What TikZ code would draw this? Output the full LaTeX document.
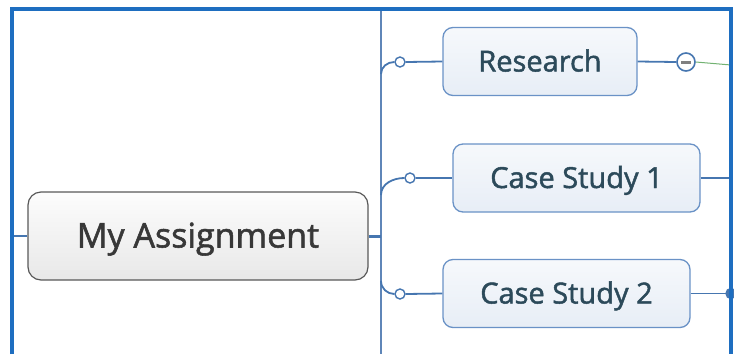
\documentclass[tikz,border=0pt]{standalone}
\usepackage{fontspec}
\setsansfont{Open Sans}
\newfontfamily\mapfont{Open Sans}[FakeBold=1.6]
\usepackage{tikz}
\usetikzlibrary{shapes}
\usetikzlibrary{calc}
\usetikzlibrary{positioning}
\definecolor{map-frame}{HTML}{1E6EC0}
\definecolor{map-line}{HTML}{4676B0}
\definecolor{map-rule}{HTML}{5F86B8}
\definecolor{map-edge}{HTML}{6A92C6}
\definecolor{map-text}{HTML}{2C4A5A}
\definecolor{map-green}{HTML}{72B272}
\tikzset{node distance=12pt, auto}
\tikzstyle{central} = [rectangle, rounded corners=13pt, draw=black!65, line width=1.2pt, top color=black!1, bottom color=black!9, minimum width=340pt, minimum height=88pt, text height=23pt, text depth=0pt, text=black!78, font={\mapfont\fontsize{34}{40}\selectfont}]
\tikzstyle{topic} = [rectangle, rounded corners=10pt, draw=map-edge, line width=1.3pt, top color=map-edge!6, bottom color=map-edge!16, minimum height=68pt, text height=20pt, text depth=0pt, text=map-text, font={\mapfont\fontsize{29}{34}\selectfont}]
\tikzstyle{knob} = [circle, draw=map-line, fill=white, line width=1.4pt, inner sep=0pt, minimum size=10pt]
\tikzstyle{ln} = [draw=map-line, line width=1.8pt]

\begin{document}
\begin{tikzpicture}[x=1pt, y=-1pt,
        frame/.style={draw=map-frame, line width=3.5pt},
        rule/.style={draw=map-rule, line width=1.2pt}
      ]
      \useasboundingbox (0,0) rectangle (734,354);
      \node[central]                      (root)   at (198,236)   {My Assignment};
      \coordinate[right=of root.east]     (hub);
      \node[topic, minimum width=194pt]   (research) at (540,61.5)  {Research};
      \node[topic, minimum width=247pt]   (case1)  at (576.5,178) {Case Study 1};
      \node[topic, minimum width=247pt]   (case2)  at (566.5,293.5) {Case Study 2};
      \node[knob]                         (k1)     at (400,62)    {};
      \node[knob]                         (k2)     at (410,178)   {};
      \node[knob]                         (k3)     at (400,294)   {};
      \node[knob, minimum size=18pt, line width=1.6pt] (fold) at (686,62) {};
      \coordinate                         (frame-nw) at (12,9);
      \coordinate                         (frame-ne) at (731,9);
      \coordinate                         (frame-sw) at (12,354);
      \coordinate                         (frame-se) at (731,354);
      \coordinate                         (rule-top) at (381,9);
      \coordinate                         (rule-bot) at (381,354);
      \draw[rule]                         (rule-top) -- (rule-bot);
      \draw[ln, line width=3pt]           (root.east) -- (hub);
      \draw[ln, line width=2pt]           (root.west) -- (root.west -| frame-nw);
      \draw[ln]                           (rule-top |- k1) ++(0,12) to[out=90, in=180] (k1.west);
      \draw[ln]                           (rule-top |- k2) ++(0,17) to[out=90, in=180] (k2.west);
      \draw[ln]                           (rule-top |- k3) ++(0,-13) to[out=-90, in=180] (k3.west);
      \draw[ln]                           (k1.east) -- (research.west);
      \draw[ln]                           (k2.east) -- (case1.west);
      \draw[ln]                           (k3.east) -- (case2.west);
      \draw[ln]                           (research.east) -- (fold.west);
      \draw[black!50, line width=3pt]     ($(fold)+(-5,0)$) -- ($(fold)+(5,0)$);
      \draw[map-green, line width=1pt]    (fold.east) -- ($(frame-ne |- fold)+(0,3)$);
      \draw[ln]                           (case1.east) -- (case1 -| frame-ne);
      \draw[ln]                           (case2.east) -- (case2 -| frame-ne);
      \node[knob, fill=map-line, minimum size=10pt] (fold2) at (case2 -| frame-ne) {};
      \draw[frame]                        (frame-sw) -- (frame-nw) -- (frame-ne) -- (frame-se);
    \end{tikzpicture}
\end{document}
